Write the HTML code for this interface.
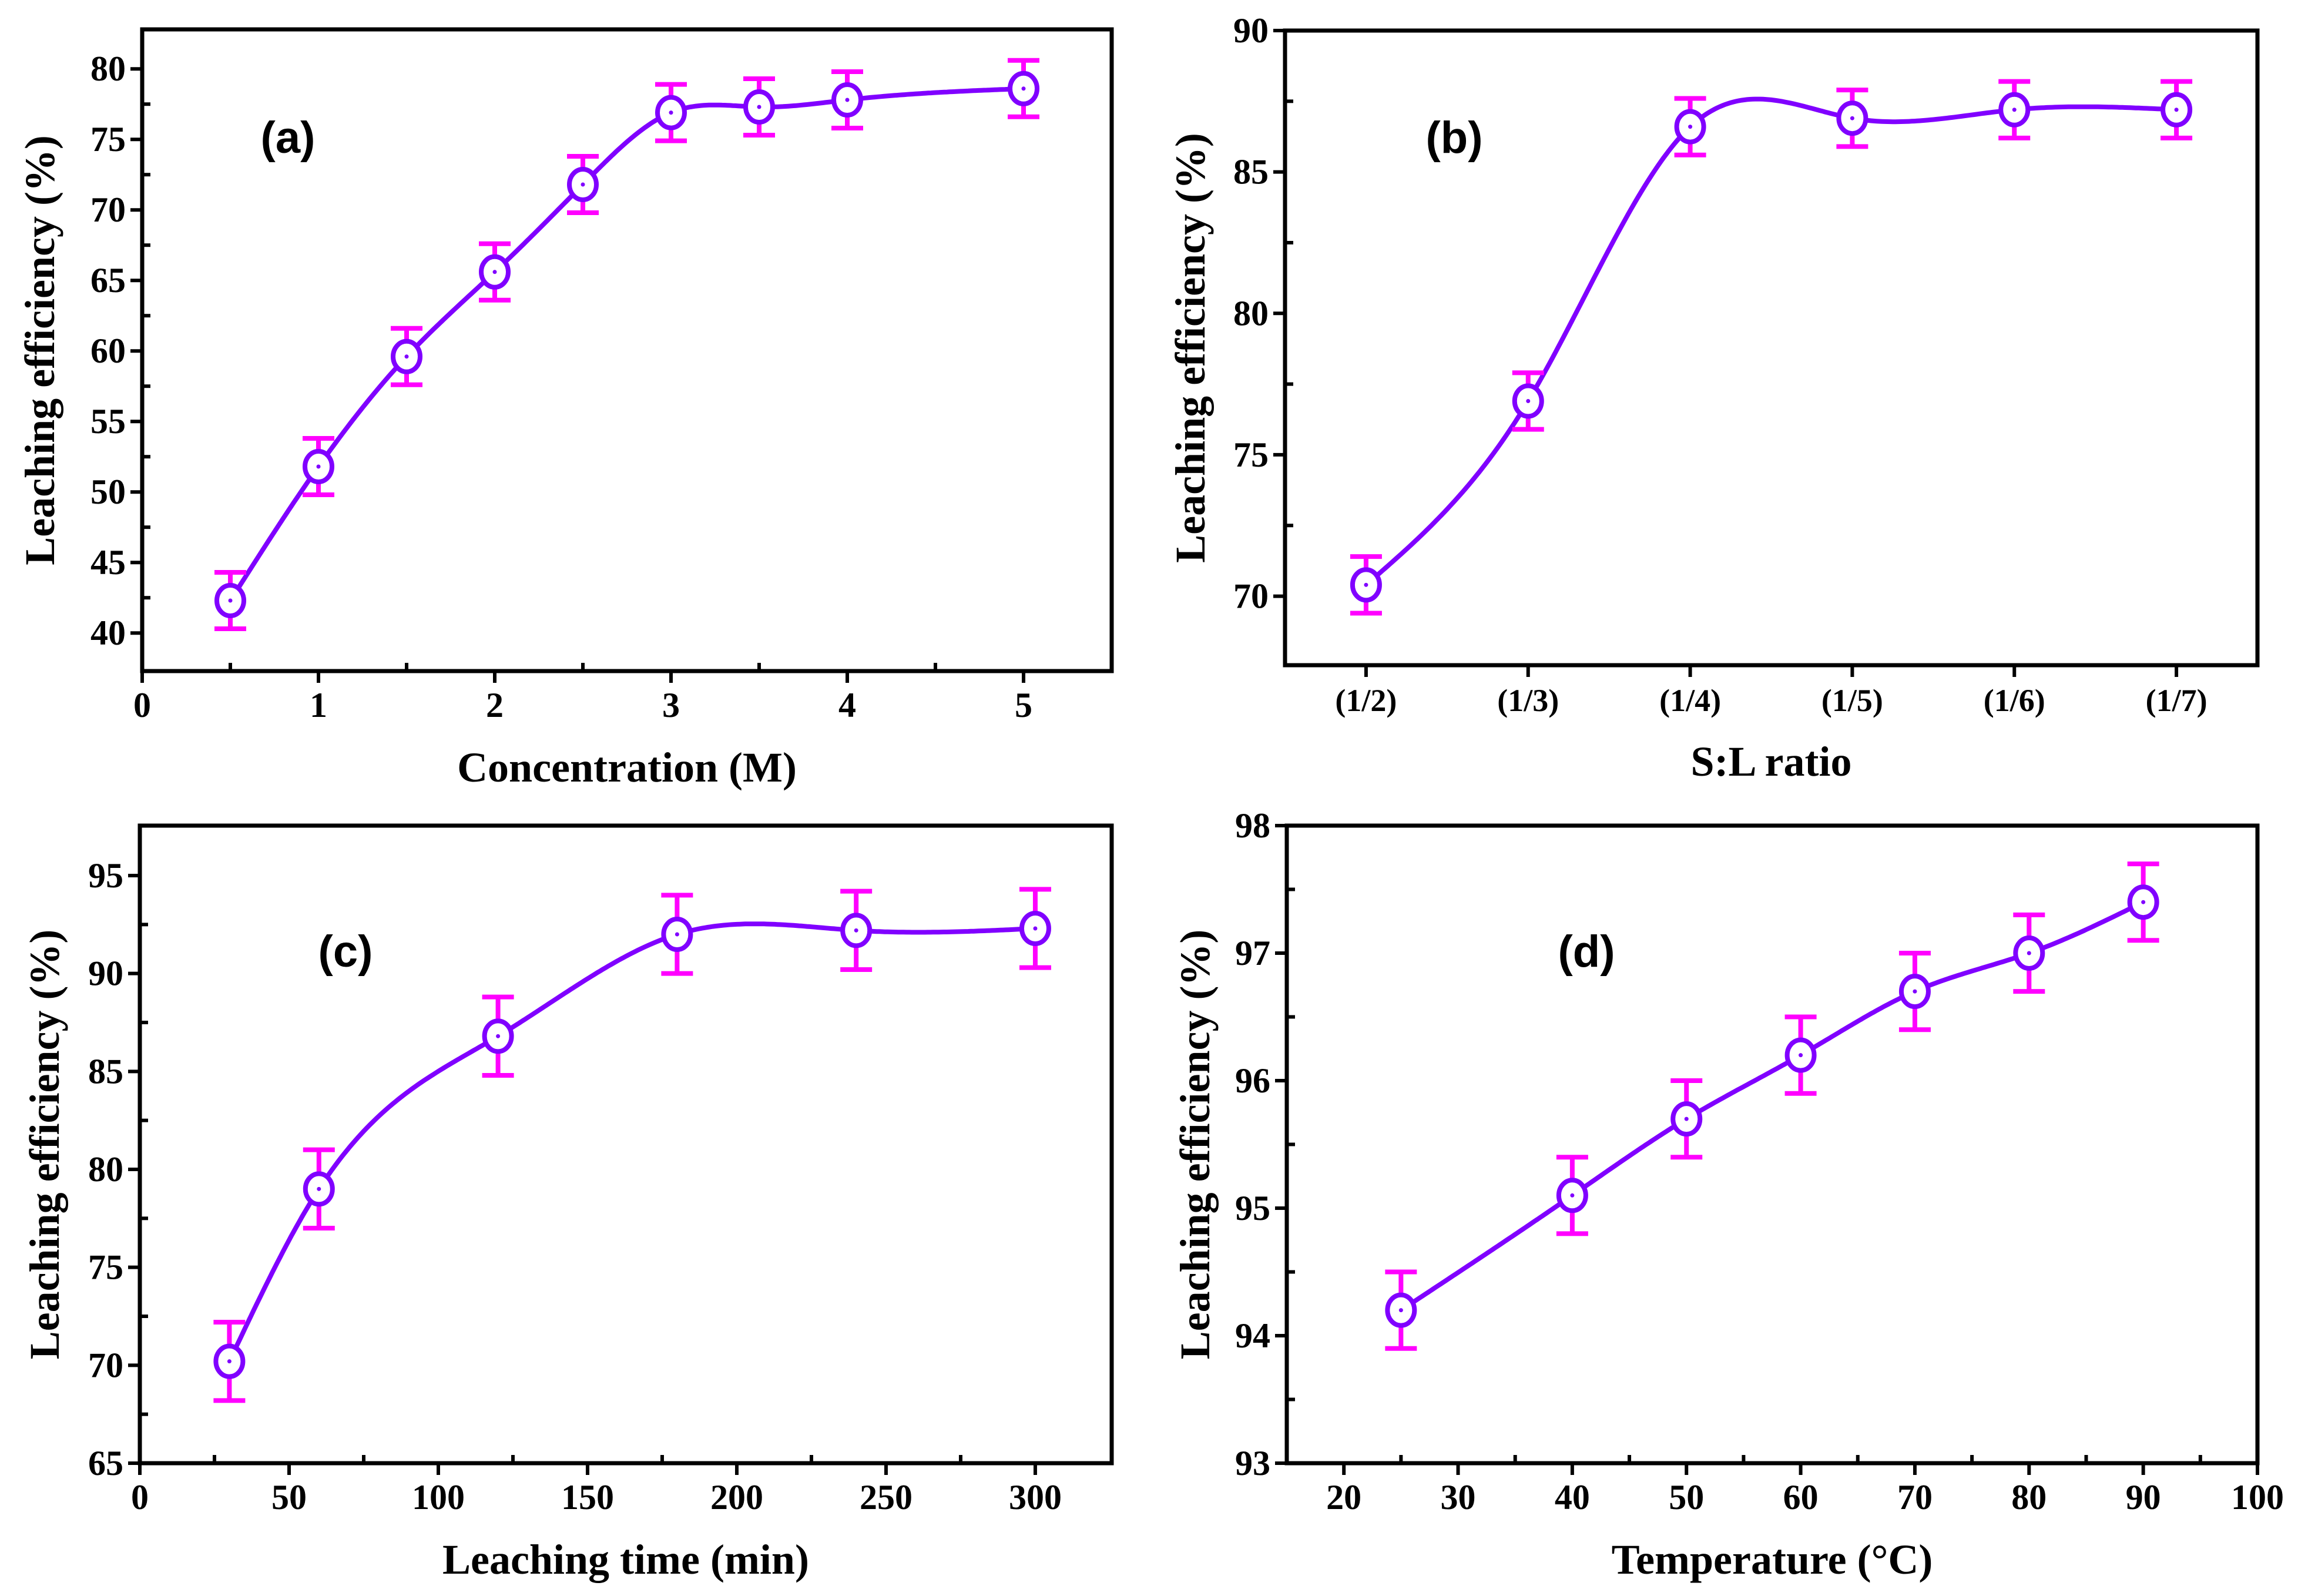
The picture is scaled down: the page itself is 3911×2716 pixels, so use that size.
<!DOCTYPE html>
<html><head><meta charset="utf-8"><style>
html,body{margin:0;padding:0;background:#fff;}
svg{display:block;}
</style></head><body>
<svg id="fig" width="3911" height="2716" viewBox="0 0 3911 2716" xmlns="http://www.w3.org/2000/svg"></svg>
<script>
// Panel (a)
const aX = [0.5,1,1.5,2,2.5,3,3.5,4,5];
const aY = [42.3,51.8,59.6,65.6,71.8,76.9,77.3,77.8,78.6];
const aErr = [2,2,2,2,2,2,2,2,2];
const aXTicks = [0,1,2,3,4,5];
const aYTicks = [40,45,50,55,60,65,70,75,80];
// Panel (b)
const bCats = ["(1/2)","(1/3)","(1/4)","(1/5)","(1/6)","(1/7)"];
const bY = [70.4,76.9,86.6,86.9,87.2,87.2];
const bErr = [1,1,1,1,1,1];
const bYTicks = [70,75,80,85,90];
// Panel (c)
const cX = [30,60,120,180,240,300];
const cY = [70.2,79.0,86.8,92.0,92.2,92.3];
const cErr = [2,2,2,2,2,2];
const cXTicks = [0,50,100,150,200,250,300];
const cYTicks = [65,70,75,80,85,90,95];
// Panel (d)
const dX = [25,40,50,60,70,80,90];
const dY = [94.2,95.1,95.7,96.2,96.7,97.0,97.4];
const dErr = [0.3,0.3,0.3,0.3,0.3,0.3,0.3];
const dXTicks = [20,30,40,50,60,70,80,90,100];
const dYTicks = [93,94,95,96,97,98];

const NS="http://www.w3.org/2000/svg";
const svg=document.getElementById('fig');
function el(tag,attrs,parent){const e=document.createElementNS(NS,tag);for(const k in attrs)e.setAttribute(k,attrs[k]);(parent||svg).appendChild(e);return e;}

function spline(xs,ys){
  const n=xs.length,h=[],al=[],l=[1],mu=[0],z=[0],c=new Array(n).fill(0),b=[],d=[];
  for(let i=0;i<n-1;i++)h.push(xs[i+1]-xs[i]);
  for(let i=1;i<n-1;i++)al[i]=3/h[i]*(ys[i+1]-ys[i])-3/h[i-1]*(ys[i]-ys[i-1]);
  for(let i=1;i<n-1;i++){l[i]=2*(xs[i+1]-xs[i-1])-h[i-1]*mu[i-1];mu[i]=h[i]/l[i];z[i]=(al[i]-h[i-1]*z[i-1])/l[i];}
  for(let j=n-2;j>=0;j--){if(j>0)c[j]=z[j]-mu[j]*c[j+1];b[j]=(ys[j+1]-ys[j])/h[j]-h[j]*(c[j+1]+2*c[j])/3;d[j]=(c[j+1]-c[j])/(3*h[j]);}
  return t=>{let j=0;while(j<n-2&&t>xs[j+1])j++;const dx=t-xs[j];return ys[j]+b[j]*dx+c[j]*dx*dx+d[j]*dx*dx*dx;};
}

function panel(cfg){
  const g=el('g',{});
  
  
  const {L,R,T,B,x0,x1,y0,y1}=cfg;
  const sx=v=>L+(v-x0)/(x1-x0)*(R-L);
  const sy=v=>B-(v-y0)/(y1-y0)*(B-T);
  const xt=el('g',{},g);
  
  
  cfg.xTicks.forEach((v,i)=>{
    el('line',{x1:sx(v),x2:sx(v),y1:B,y2:B+20,stroke:'#000','stroke-width':6},xt);
    const t=el('text',{x:sx(v),y:B+78,'text-anchor':'middle','font-family':'Liberation Serif, serif','font-weight':'bold','font-size':cfg.xfs||60},xt);
    t.textContent=cfg.xLabels?cfg.xLabels[i]:v;
  });
  (cfg.xMinor||[]).forEach(v=>{el('line',{x1:sx(v),x2:sx(v),y1:B,y2:B-14,stroke:'#000','stroke-width':6},xt);});
  const yt=el('g',{},g);
  
  
  cfg.yTicks.forEach(v=>{
    el('line',{x1:L,x2:L-20,y1:sy(v),y2:sy(v),stroke:'#000','stroke-width':6},yt);
    const t=el('text',{x:L-28,y:sy(v)+20,'text-anchor':'end','font-family':'Liberation Serif, serif','font-weight':'bold','font-size':60},yt);
    t.textContent=v;
  });
  for(let i=0;i<cfg.yTicks.length-1;i++){const v=(cfg.yTicks[i]+cfg.yTicks[i+1])/2;el('line',{x1:L,x2:L+14,y1:sy(v),y2:sy(v),stroke:'#000','stroke-width':6},yt);}
  const fr=el('rect',{x:L,y:T,width:R-L,height:B-T,fill:'none',stroke:'#000','stroke-width':7},g);
  
  
  const f=spline(cfg.xs,cfg.ys);
  let d='';const xa=cfg.xs[0],xb=cfg.xs[cfg.xs.length-1];
  for(let k=0;k<=300;k++){const t=xa+(xb-xa)*k/300;d+=(k?'L':'M')+sx(t).toFixed(1)+','+sy(f(t)).toFixed(1);}
  const ln=el('path',{d:d,fill:'none',stroke:'#8000ff','stroke-width':8},g);
  
  
  cfg.xs.forEach((x,i)=>{
    const px=sx(x),py=sy(cfg.ys[i]),e=cfg.err[i];
    const eb=el('g',{stroke:'#ff00ff','stroke-width':8,fill:'none'},g);
    
    
    el('line',{x1:px,x2:px,y1:sy(cfg.ys[i]+e),y2:sy(cfg.ys[i]-e)},eb);
    el('line',{x1:px-27,x2:px+27,y1:sy(cfg.ys[i]+e),y2:sy(cfg.ys[i]+e)},eb);
    el('line',{x1:px-27,x2:px+27,y1:sy(cfg.ys[i]-e),y2:sy(cfg.ys[i]-e)},eb);
    const m=el('ellipse',{cx:px,cy:py,rx:23,ry:26,fill:'#fff',stroke:'#8000ff','stroke-width':8},g);
    
    
    el('circle',{cx:px,cy:py,r:3.5,fill:'#8000ff'},g);
  });
  const pl=el('text',{x:cfg.lab[0],y:cfg.lab[1],'text-anchor':'middle','font-family':'Liberation Sans, sans-serif','font-weight':'bold','font-size':76},g);
  pl.textContent=cfg.label;
  
  
  const xtit=el('text',{x:(L+R)/2,y:B+188,'text-anchor':'middle','font-family':'Liberation Serif, serif','font-weight':'bold','font-size':72},g);
  xtit.textContent=cfg.xTitle;
  
  
  const yx=cfg.yTitleX,yy=(T+B)/2;
  const ytit=el('text',{x:yx,y:yy,'text-anchor':'middle','font-family':'Liberation Serif, serif','font-weight':'bold','font-size':72,transform:`rotate(-90 ${yx} ${yy})`},g);
  ytit.textContent='Leaching efficiency (%)';
  
  
}

panel({name:'panel-a',L:242,R:1892,T:50,B:1142,x0:0,x1:5.5,y0:37.3,y1:82.8,xs:aX,ys:aY,err:aErr,xTicks:aXTicks,xMinor:[0.5,1.5,2.5,3.5,4.5],yTicks:aYTicks,label:'(a)',lab:[490,260],xTitle:'Concentration (M)',yTitleX:92});
panel({name:'panel-b',L:2187,R:3842,T:52,B:1132,x0:0.5,x1:6.5,y0:67.56,y1:90,xs:[1,2,3,4,5,6],ys:bY,err:bErr,xTicks:[1,2,3,4,5,6],xLabels:bCats,xfs:54,yTicks:bYTicks,label:'(b)',lab:[2475,260],xTitle:'S:L ratio',yTitleX:2050});
panel({name:'panel-c',L:238,R:1892,T:1405,B:2490,x0:0,x1:325.6,y0:65,y1:97.55,xs:cX,ys:cY,err:cErr,xTicks:cXTicks,xMinor:[25,75,125,175,225,275],yTicks:cYTicks,label:'(c)',lab:[588,1645],xTitle:'Leaching time (min)',yTitleX:100});
panel({name:'panel-d',L:2190,R:3842,T:1405,B:2490,x0:15,x1:100,y0:93,y1:98,xs:dX,ys:dY,err:dErr,xTicks:dXTicks,xMinor:[25,35,45,55,65,75,85,95],yTicks:dYTicks,label:'(d)',lab:[2700,1645],xTitle:'Temperature (°C)',yTitleX:2058});
</script>
</body></html>
